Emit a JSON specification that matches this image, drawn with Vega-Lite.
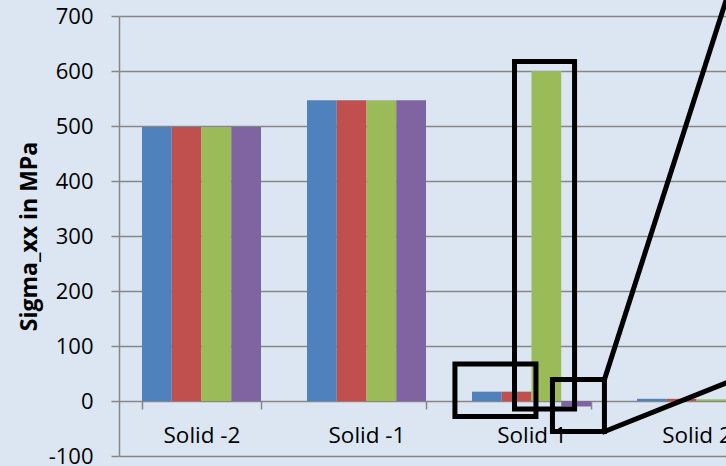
{
  "$schema": "https://vega.github.io/schema/vega-lite/v6.json",
  "autosize": "none",
  "width": 607,
  "height": 440,
  "padding": {"left": 119, "top": 16, "right": 0, "bottom": 10},
  "background": "#dce6f2",
  "config": {
    "view": {"stroke": null, "fill": "#dce6f2"},
    "font": "Open Sans"
  },
  "datasets": {
    "bars": [
      {"solid": "Solid -2", "series": "S1", "value": 498},
      {"solid": "Solid -2", "series": "S2", "value": 498},
      {"solid": "Solid -2", "series": "S3", "value": 498},
      {"solid": "Solid -2", "series": "S4", "value": 498},
      {"solid": "Solid -1", "series": "S1", "value": 547},
      {"solid": "Solid -1", "series": "S2", "value": 547},
      {"solid": "Solid -1", "series": "S3", "value": 547},
      {"solid": "Solid -1", "series": "S4", "value": 547},
      {"solid": "Solid 1", "series": "S1", "value": 17},
      {"solid": "Solid 1", "series": "S2", "value": 17},
      {"solid": "Solid 1", "series": "S3", "value": 600},
      {"solid": "Solid 1", "series": "S4", "value": -10},
      {"solid": "Solid 2", "series": "S1", "value": 4},
      {"solid": "Solid 2", "series": "S2", "value": 4},
      {"solid": "Solid 2", "series": "S3", "value": 3},
      {"solid": "Solid 2", "series": "S4", "value": 3}
    ],
    "boxes": [
      {"x1": 2.397, "x2": 2.761, "y1": -14.5, "y2": 617.3},
      {"x1": 2.036, "x2": 2.527, "y1": -28.2, "y2": 67.3},
      {"x1": 2.627, "x2": 2.942, "y1": -55.5, "y2": 39.1}
    ],
    "links": [
      {"x1": 2.942, "y1": 39.1, "x2": 3.776, "y2": 819.1},
      {"x1": 2.942, "y1": -55.5, "x2": 4.0, "y2": 71.1}
    ]
  },
  "layer": [
    {
      "data": {"name": "bars"},
      "mark": {"type": "bar", "clip": true},
      "encoding": {
        "x": {
          "field": "solid", "type": "nominal", "sort": null,
          "scale": {"range": [0, 660], "paddingInner": 0.2788, "paddingOuter": 0.1394},
          "axis": {
            "title": null, "labelAngle": 0, "labelFont": "Open Sans", "labelFontSize": 22.5,
            "labelColor": "#000000", "domain": false, "tickBand": "extent",
            "tickColor": "#868686", "tickSize": 8, "tickWidth": 1.5, "offset": -55,
            "labelPadding": 15
          }
        },
        "xOffset": {"field": "series", "type": "nominal", "scale": {"paddingInner": 0, "paddingOuter": 0}},
        "y": {
          "field": "value", "type": "quantitative",
          "scale": {"domain": [-100, 700], "nice": false, "zero": false},
          "axis": {
            "title": "Sigma_xx in MPa", "titleFont": "Open Sans", "titleFontSize": 23,
            "titleFontWeight": "bold", "titleColor": "#000000", "titlePadding": 7,
            "values": [-100, 0, 100, 200, 300, 400, 500, 600, 700],
            "labelExpr": "replace(datum.label, '−', '-')",
            "labelFont": "Open Sans", "labelFontSize": 22, "labelColor": "#000000",
            "labelPadding": 18, "tickSize": 8, "tickColor": "#868686", "tickWidth": 1.5,
            "domainColor": "#868686", "domainWidth": 1.5,
            "grid": true, "gridColor": "#868686", "gridWidth": 1.5
          }
        },
        "color": {
          "field": "series", "type": "nominal", "legend": null,
          "scale": {"domain": ["S1", "S2", "S3", "S4"], "range": ["#4f81bd", "#c0504d", "#9bbb59", "#8064a2"]}
        }
      }
    },
    {
      "data": {"name": "boxes"},
      "mark": {"type": "rect", "fillOpacity": 0, "stroke": "#000000", "strokeWidth": 5, "clip": true},
      "encoding": {
        "x": {"field": "x1", "type": "quantitative", "scale": {"domain": [0, 4], "range": [0, 660], "nice": false, "zero": false}, "axis": null},
        "x2": {"field": "x2"},
        "y": {"field": "y1", "type": "quantitative"},
        "y2": {"field": "y2"}
      }
    },
    {
      "data": {"name": "links"},
      "mark": {"type": "rule", "stroke": "#000000", "strokeWidth": 5, "strokeCap": "square"},
      "encoding": {
        "x": {"field": "x1", "type": "quantitative", "scale": {"domain": [0, 4], "range": [0, 660], "nice": false, "zero": false}, "axis": null},
        "x2": {"field": "x2"},
        "y": {"field": "y1", "type": "quantitative"},
        "y2": {"field": "y2"}
      }
    }
  ],
  "resolve": {"scale": {"x": "independent"}, "axis": {"x": "independent"}}
}
